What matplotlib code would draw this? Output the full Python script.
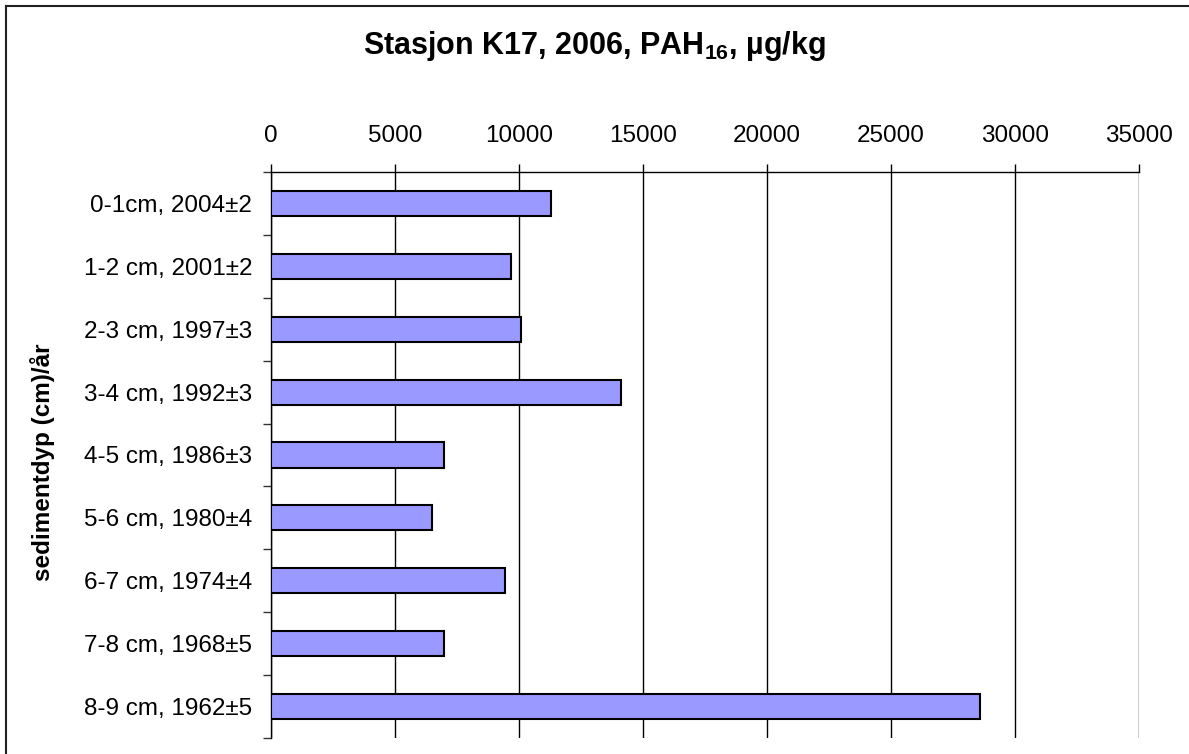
import matplotlib
matplotlib.use("Agg")
import matplotlib.pyplot as plt
from matplotlib.lines import Line2D
from matplotlib.ticker import FixedLocator

categories = ["0-1cm, 2004±2", "1-2 cm, 2001±2", "2-3 cm, 1997±3", "3-4 cm, 1992±3",
              "4-5 cm, 1986±3", "5-6 cm, 1980±4", "6-7 cm, 1974±4", "7-8 cm, 1968±5",
              "8-9 cm, 1962±5"]
values = [11280, 9700, 10080, 14120, 6960, 6500, 9460, 6960, 28600]
xticks = [0, 5000, 10000, 15000, 20000, 25000, 30000, 35000]

plt.rcParams['font.family'] = ['Liberation Sans', 'DejaVu Sans']
plt.rcParams['mathtext.fontset'] = 'custom'
plt.rcParams['mathtext.bf'] = 'Liberation Sans:bold'
plt.rcParams['mathtext.rm'] = 'Liberation Sans:bold'
plt.rcParams['mathtext.default'] = 'bf'

W, H = 1189, 754
fig = plt.figure(figsize=(W / 100, H / 100), dpi=100)
fig.patch.set_facecolor('white')

L, R, T, B = 271, 1138.6, 172, 738
ax = fig.add_axes([L / W, 1 - B / H, (R - L) / W, (B - T) / H])

pos = list(range(len(categories)))
ax.barh(pos, values, height=0.4, color='#9999FF', edgecolor='black', linewidth=1.5, zorder=3)

ax.set_xlim(0, 35000)
ax.set_ylim(len(categories) - 0.5, -0.5)

ax.xaxis.tick_top()
ax.set_xticks(xticks)
ax.set_xticklabels([str(v) for v in xticks])
ax.tick_params(axis='x', which='major', direction='out', length=5.76, width=1,
               color='black', labelsize=17.5, pad=12)

ax.set_yticks(pos)
ax.set_yticklabels(categories)
ax.tick_params(axis='y', which='major', length=0, labelsize=17.5, pad=13.5)
ax.yaxis.set_minor_locator(FixedLocator([i - 0.5 for i in range(len(categories) + 1)]))
ax.tick_params(axis='y', which='minor', direction='out', length=5.76, width=1, color='#333333')

ax.grid(axis='x', color='black', linewidth=1, zorder=1)
ax.set_axisbelow(True)

for s in ['right', 'bottom']:
    ax.spines[s].set_visible(False)
for s in ['top', 'left']:
    ax.spines[s].set_color('black')
    ax.spines[s].set_linewidth(1)

fig.text(0.5, 1 - 46 / H, 'Stasjon K17, 2006, PAH$_{16}$, µg/kg', ha='center', va='center',
         fontsize=22, fontweight='bold')
fig.text(43 / W, 1 - 462 / H, 'sedimentdyp (cm)/år', rotation=90, ha='center', va='center',
         fontsize=17.5, fontweight='bold')

# outer chart border (left and top visible)
fig.add_artist(Line2D([5.5 / W, 5.5 / W], [0, 1 - 6 / H], transform=fig.transFigure,
                      color='#222222', linewidth=1.5))
fig.add_artist(Line2D([5.5 / W, 1], [1 - 6 / H, 1 - 6 / H], transform=fig.transFigure,
                      color='#222222', linewidth=1.5))

fig.savefig('out.png', dpi=100)
